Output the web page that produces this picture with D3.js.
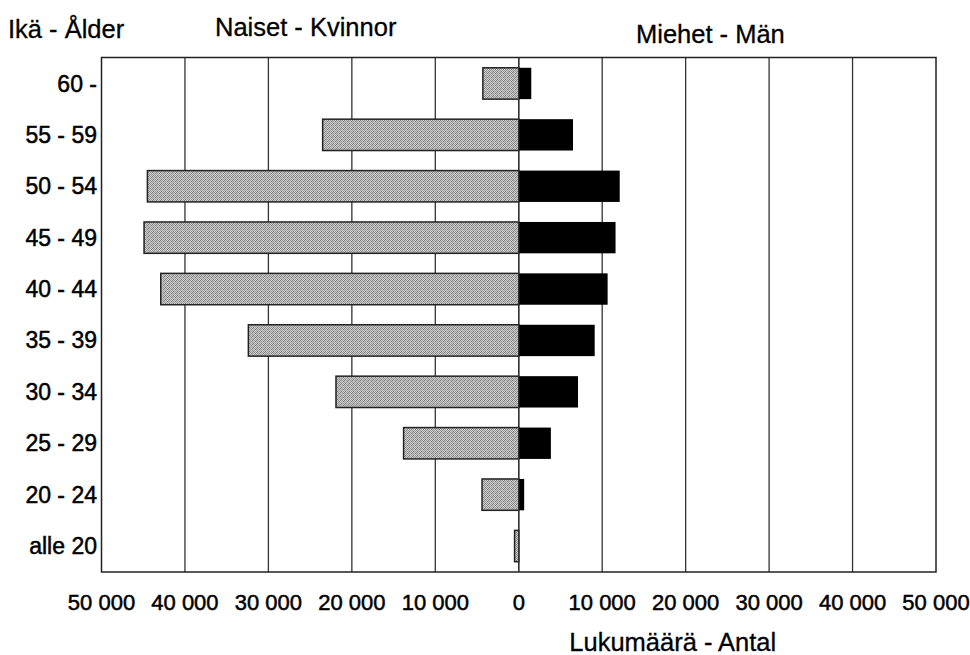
<!DOCTYPE html>
<html><head><meta charset="utf-8">
<script src="https://cdn.jsdelivr.net/npm/d3@7"></script>
<style>
html,body{margin:0;padding:0;background:#fff;}
svg{display:block;font-family:"Liberation Sans",Arial,Helvetica,sans-serif;}
</style></head>
<body>
<svg id="chart" width="970" height="655"></svg>
<script>
const categories = ["60 -","55 - 59","50 - 54","45 - 49","40 - 44","35 - 39","30 - 34","25 - 29","20 - 24","alle 20"];
const women = [4300, 23500, 44500, 44900, 42900, 32400, 21900, 13800, 4400, 500];
const men = [1500, 6500, 12100, 11600, 10650, 9100, 7100, 3850, 650, 0];
const tickValues = [-50000,-40000,-30000,-20000,-10000,0,10000,20000,30000,40000,50000];
const tickLabels = ["50 000","40 000","30 000","20 000","10 000","0","10 000","20 000","30 000","40 000","50 000"];
const titleAge = "Ikä - Ålder";
const titleWomen = "Naiset - Kvinnor";
const titleMen = "Miehet - Män";
const axisTitle = "Lukumäärä - Antal";

const svg = d3.select("#chart");
const pLeft = 101.5, pRight = 936, pTop = 57.5, pBottom = 572;
const x = d3.scaleLinear().domain([-50000, 50000]).range([pLeft, pRight]);
const y = d3.scaleBand().domain(categories).range([pTop, pBottom]).paddingInner(0.39).paddingOuter(0.2);

// pattern for women bars (dithered grey)
const defs = svg.append("defs");
const pat = defs.append("pattern").attr("id","dither").attr("width",4).attr("height",4).attr("patternUnits","userSpaceOnUse");
pat.append("rect").attr("width",4).attr("height",4).attr("fill","#d0d0d0");
[[0,0],[2,0],[1,1],[3,1],[0,2],[2,2],[1,3],[3,3]].forEach(([a,b],k)=>{
  pat.append("rect").attr("x",a).attr("y",b).attr("width",1).attr("height",1).attr("fill", k%3===0 ? "#7a7a7a" : "#949494");
});

// gridlines
svg.append("g").selectAll("line").data(tickValues.slice(1,-1)).join("line")
  .attr("x1", d=>x(d)).attr("x2", d=>x(d)).attr("y1", pTop).attr("y2", pBottom)
  .attr("stroke","#333").attr("stroke-width",1.3);

// plot border
svg.append("rect").attr("x",pLeft).attr("y",pTop).attr("width",pRight-pLeft).attr("height",pBottom-pTop)
  .attr("fill","none").attr("stroke","#222").attr("stroke-width",1.5);

// women bars
svg.append("g").selectAll("rect").data(categories).join("rect")
  .attr("x", (d,i)=>x(-women[i]))
  .attr("y", d=>y(d))
  .attr("width", (d,i)=>x(0)-x(-women[i]))
  .attr("height", y.bandwidth())
  .attr("fill","url(#dither)").attr("stroke","#222").attr("stroke-width",1.5);

// men bars
svg.append("g").selectAll("rect").data(categories).join("rect")
  .attr("x", x(0))
  .attr("y", d=>y(d))
  .attr("width", (d,i)=>x(men[i])-x(0))
  .attr("height", y.bandwidth())
  .attr("fill","#000");

// zero line on top
svg.append("line").attr("x1",x(0)).attr("x2",x(0)).attr("y1",pTop).attr("y2",pBottom)
  .attr("stroke","#333").attr("stroke-width",1.3);

// x tick labels
svg.append("g").selectAll("text").data(tickValues).join("text")
  .attr("x", d=>x(d)).attr("y", 610)
  .attr("text-anchor","middle").attr("font-size",22).attr("fill","#000")
  .attr("stroke","#000").attr("stroke-width",0.5)
  .text((d,i)=>tickLabels[i]);

// category labels
svg.append("g").selectAll("text").data(categories).join("text")
  .attr("x", 97).attr("y", d=>y(d)+y.bandwidth()/2)
  .attr("dy","0.35em").attr("text-anchor","end").attr("font-size",23).attr("fill","#000")
  .attr("stroke","#000").attr("stroke-width",0.5)
  .text(d=>d);

// titles
const tAttr = s => s.attr("font-size",25.5).attr("fill","#000").attr("stroke","#000").attr("stroke-width",0.3);
svg.append("text").attr("x",8).attr("y",38).call(tAttr).text(titleAge);
svg.append("text").attr("x",215).attr("y",36).call(tAttr).text(titleWomen);
svg.append("text").attr("x",636).attr("y",43).call(tAttr).text(titleMen);
svg.append("text").attr("x",x(0)+154).attr("y",651).attr("text-anchor","middle").call(tAttr).text(axisTitle);
</script>
</body></html>
